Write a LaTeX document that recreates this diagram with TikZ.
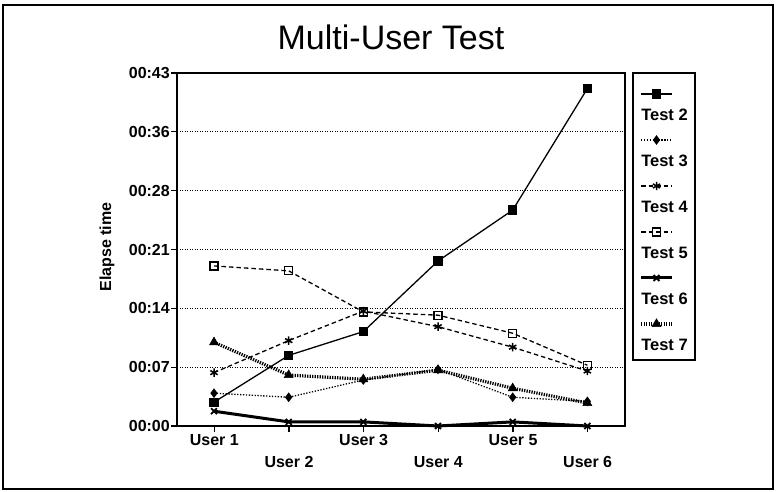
\documentclass[tikz,border=0pt]{standalone}
\usepackage{fontspec}
\setmainfont{Liberation Sans}
\usetikzlibrary{plotmarks}

\tikzset{
  lbl/.style={font=\bfseries\fontsize{16}{18}\selectfont, inner sep=0pt},
  gridline/.style={line width=1.3pt, dash pattern=on 1.2pt off 1.3pt},
  tsolid/.style={line width=1.3pt, mark=square*, mark size=4pt, mark options={solid}},
  tdot/.style={line width=1.3pt, dash pattern=on 1.3pt off 1.6pt, mark=diamond*, mark size=3.8pt, mark options={solid}},
  tstar/.style={line width=1.3pt, dash pattern=on 4.5pt off 3pt, mark=asterisk, mark size=4.2pt, mark options={solid, line width=1.5pt}},
  tbox/.style={line width=1.3pt, dash pattern=on 4.5pt off 3pt, mark=square, mark size=4pt, mark options={solid, fill=white, line width=1.3pt}},
  tthick/.style={line width=3pt, mark=x, mark size=4.2pt, mark options={solid, line width=1.8pt}},
  ttri/.style={line width=3.2pt, dash pattern=on 1.3pt off 1.2pt, mark=triangle*, mark size=5.2pt, mark options={solid, line width=0.5pt}}
}

\begin{document}
\begin{tikzpicture}[x=1pt, y=1pt]
  \useasboundingbox (0,0) rectangle (779,492);
  \draw[line width=2.2pt] (3,3) rectangle (773,487);
  \node[font=\fontsize{34}{40}\selectfont] (title) at (391,455) {Multi-User Test};

  % grid, y ticks and labels
  \foreach \v/\t in {0/00:00, 1/00:07, 2/00:14, 3/00:21, 4/00:28, 5/00:36, 6/00:43} {
    \pgfmathsetmacro\yy{66+58.83*\v}
    \draw[gridline] (177,\yy) -- (625,\yy);
    \draw[line width=1.2pt] (171,\yy) -- (177,\yy);
    \node[lbl, anchor=east] (yt\v) at (170,\yy) {\t};
  }
  \node[lbl, rotate=90] (ylabel) at (107,245) {Elapse time};

  % x ticks and labels, staggered on two rows
  \foreach \u in {1,...,6} {
    \pgfmathsetmacro\xx{177+74.67*(\u-0.5)}
    \pgfmathsetmacro\yy{isodd(\u) ? 52 : 30}
    \draw[line width=1.2pt] (\xx,66) -- (\xx,60);
    \node[lbl] (u\u) at (\xx,\yy) {User \u};
  }

  \draw[line width=1.8pt] (177,66) rectangle (625,419);

  % the six series, in seconds
  \begin{scope}[shift={(139.33,66)}, x=74.67pt, y=8.209pt]
    \draw[tbox] plot coordinates {(1,19.5) (2,18.9) (3,13.9) (4,13.5) (5,11.3) (6,7.4)};
    \draw[tstar] plot coordinates {(1,6.5) (2,10.4) (3,14.0) (4,12.1) (5,9.6) (6,6.7)};
    \draw[tdot] plot coordinates {(1,4.0) (2,3.5) (3,5.6) (4,6.9) (5,3.5) (6,3.0)};
    \draw[ttri] plot coordinates {(1,10.2) (2,6.2) (3,5.7) (4,6.8) (5,4.6) (6,2.8)};
    \draw[tthick] plot coordinates {(1,1.8) (2,0.5) (3,0.5) (4,0) (5,0.5) (6,0)};
    \draw[tsolid] plot coordinates {(1,2.9) (2,8.6) (3,11.5) (4,20.1) (5,26.3) (6,41.1)};
  \end{scope}

  % legend
  \draw[line width=1.8pt] (633,132) rectangle (695,419);
  \foreach \s/\n [count=\i from 0] in {tsolid/Test 2, tdot/Test 3, tstar/Test 4, tbox/Test 5, tthick/Test 6, ttri/Test 7} {
    \draw[\s, mark indices={2}] plot coordinates {(641,398-46*\i) (656.5,398-46*\i) (672,398-46*\i)};
    \node[lbl, font=\bfseries\fontsize{16.5}{18}\selectfont] (leg\i) at (664.5,377-46*\i) {\n};
  }
\end{tikzpicture}
\end{document}
